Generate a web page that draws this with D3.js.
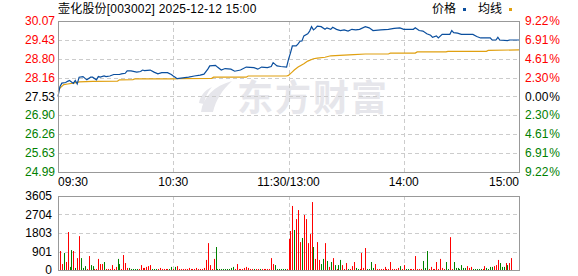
<!DOCTYPE html>
<html lang="zh">
<head>
<meta charset="UTF-8">
<title>壶化股份 分时图</title>
<script src="https://d3js.org/d3.v7.min.js"></script>
<style>
    body { margin: 0; background: #fff; }
    svg { display: block; font-family: "Liberation Sans", Arial, "Noto Sans CJK SC", sans-serif; font-size: 12px; }
</style>
</head>
<body>
<div id="chart"></div>
<script>
// ---- data ----
var title = "壶化股份[003002] 2025-12-12 15:00";
var preClose = 27.53;
var priceTicks = [30.07, 29.43, 28.80, 28.16, 27.53, 26.90, 26.26, 25.63, 24.99];
var pctTicks = ["9.22", "6.91", "4.61", "2.30", "0.00", "2.30", "4.61", "6.91", "9.22"];
var volTicks = [0, 901, 1803, 2704, 3605];
var timeLabels = ["09:30", "10:30", "11:30/13:00", "14:00", "15:00"];
var timeMinutes = [0, 60, 120, 180, 240];

// price line: minute index -> price
var priceMin = [0,1,2,4,5,6,8,9,10,11,13,15,17,18,20,21,22,24,25,27,29,32,33,35,36,38,41,43,44,45,48,50,52,54,57,59,60,61,62,64,68,71,74,76,78,79,82,83,85,87,90,92,95,98,102,104,106,109,111,112,114,116,119,120,121,122,124,125,126,127,128,130,131,132,133,134,135,137,139,140,142,143,145,147,149,151,153,155,157,160,162,164,168,172,175,178,180,185,186,188,190,192,194,195,197,198,200,204,205,206,208,210,216,218,220,225,226,228,229,230,234,235,240];
var priceVal = [27.53,27.86,27.98,28.00,28.04,28.07,27.97,28.07,27.95,28.18,28.20,28.09,28.18,28.18,28.09,28.20,28.18,28.22,28.20,28.22,28.27,28.27,28.29,28.31,28.39,28.39,28.35,28.37,28.42,28.40,28.42,28.35,28.29,28.33,28.33,28.27,28.22,28.18,28.13,28.15,28.18,28.22,28.25,28.28,28.45,28.56,28.58,28.52,28.42,28.47,28.45,28.38,28.42,28.52,28.50,28.45,28.52,28.50,28.54,28.67,28.56,28.54,28.52,28.78,28.99,29.23,29.23,29.30,29.39,29.40,29.57,29.64,29.73,29.88,29.77,29.82,29.90,29.88,29.79,29.84,29.79,29.86,29.79,29.75,29.77,29.73,29.79,29.77,29.79,29.88,29.84,29.75,29.77,29.79,29.82,29.84,29.79,29.79,29.84,29.75,29.73,29.64,29.59,29.52,29.57,29.50,29.62,29.62,29.75,29.68,29.66,29.62,29.62,29.55,29.50,29.50,29.43,29.43,29.52,29.43,29.41,29.43,29.43];

// average line: minute index -> price
var avgMin = [0,1,3,5,8,11,18,31,32,39,40,61,62,80,81,98,99,119,120,121,122,123,125,128,130,133,135,139,142,149,154,160,172,173,186,187,202,203,223,224,240];
var avgVal = [27.70,27.81,27.93,27.95,27.98,28.02,28.04,28.05,28.09,28.10,28.12,28.12,28.13,28.14,28.18,28.18,28.22,28.22,28.24,28.30,28.36,28.42,28.52,28.63,28.72,28.80,28.82,28.85,28.90,28.92,28.94,28.96,28.96,28.99,28.99,29.03,29.03,29.05,29.05,29.08,29.10];

// volume per minute (241 bars) and direction r = up, g = down
var volume = [
    1170,925,290,830,390,1850,150,970,925,100,
    580,1650,580,100,190,50,680,240,190,50,
    50,540,290,290,390,50,50,50,240,50,
    150,540,290,50,730,340,100,100,50,50,
    50,50,50,240,100,100,150,190,240,50,
    50,50,50,100,50,50,50,50,50,150,
    50,150,190,50,50,50,50,50,100,50,
    50,50,100,50,50,50,100,490,1310,240,
    50,540,1120,50,50,50,50,50,50,50,
    100,150,50,290,50,50,50,100,150,100,
    50,50,50,50,50,50,50,50,50,50,
    50,580,290,240,50,50,50,50,50,50,
    1510,1900,3120,1950,2480,2920,1360,1560,2680,2480,
    1310,1750,3310,1120,540,1360,490,290,540,1310,
    440,150,390,580,240,50,240,490,240,50,
    340,50,50,190,390,100,50,50,830,100,
    1070,50,50,390,100,290,50,50,50,50,
    150,50,50,390,50,50,50,100,190,50,
    240,50,50,50,50,50,680,50,50,50,
    440,100,925,50,150,50,50,390,50,540,
    100,50,390,50,1600,50,390,100,100,50,
    240,100,100,190,100,150,50,50,50,50,
    50,50,190,100,50,150,150,190,240,490,
    340,150,150,340,240,340,580,0,0,0,
    970
];
var direction = (
    "rrrgrrggrg" + "rrgggrrggr" + "rrrrgrrrrr" + "rggrrrrggg" + "ggrrrrrrrg" +
    "ggrrrrrrgg" + "rgrrrrrrrr" + "rrrrrrrrrr" + "rrgggggggg" + "ggrrrrrrrr" +
    "rrgrrgrrrr" + "rrrggggggr" + "rrrgrrrgrr" + "rrrgrrrggr" + "grgrgrggrr" +
    "rgrrrggrrr" + "rggggrrrrr" + "rrrrrrrrgr" + "rggrrrrrrr" + "gggrrrrrrr" +
    "rrggrrgggg" + "gggrrrgggg" + "grrggggrrr" + "gggrgrrrrr" + "r"
).split("");

// ---- layout ----
var width = 578, height = 276;
var left = 58, right = 519;
var mainTop = 21, mainBottom = 172;
var volTop = 196, volBottom = 270;
var red = "#ff0000", green = "#008000", gridColor = "#cccccc", frameColor = "#999999";

var svg = d3.select("#chart").append("svg")
    .attr("width", width)
    .attr("height", height);

var x = d3.scaleLinear().domain([0, 240]).range([left, right]);
var y = d3.scaleLinear().domain([24.99, 30.07]).range([mainBottom, mainTop]);
var yv = d3.scaleLinear().domain([0, 3605]).range([volBottom, volTop]);

function crisp(v) { return Math.round(v) + 0.5; }

// watermark (logo + name), drawn under the grid
var wm = svg.append("g").attr("fill", "#e6e6eb");
wm.append("path").attr("d", "M201,112 C203,97 214,86 232,81 C222,90 216,100 213,112 Z");
wm.append("path").attr("d", "M199,103 C200,96 205,90 212,87 C207,93 205,98 204,104 Z");
wm.append("text")
    .attr("x", 237).attr("y", 111)
    .attr("font-size", 36).attr("font-weight", "bold")
    .attr("font-family", "Noto Sans CJK SC")
    .attr("letter-spacing", 2)
    .text("东方财富");

// grid lines
var grid = svg.append("g")
    .attr("stroke", gridColor)
    .attr("stroke-dasharray", "4,3");

grid.selectAll(".hmain")
    .data(priceTicks.slice(1, -1))
    .enter().append("line")
    .attr("x1", left).attr("x2", right)
    .attr("y1", function(d) { return crisp(y(d)); })
    .attr("y2", function(d) { return crisp(y(d)); });

grid.selectAll(".hvol")
    .data(volTicks.slice(1, -1))
    .enter().append("line")
    .attr("x1", left).attr("x2", right)
    .attr("y1", function(d) { return crisp(yv(d)); })
    .attr("y2", function(d) { return crisp(yv(d)); });

timeMinutes.slice(1, -1).forEach(function(m) {
    grid.append("line")
        .attr("x1", crisp(x(m))).attr("x2", crisp(x(m)))
        .attr("y1", mainTop).attr("y2", mainBottom);
    grid.append("line")
        .attr("x1", crisp(x(m))).attr("x2", crisp(x(m)))
        .attr("y1", volTop).attr("y2", volBottom);
});

// average + price lines
var avgLine = d3.line()
    .x(function(d, i) { return x(avgMin[i]); })
    .y(function(d) { return y(d); });
svg.append("path")
    .datum(avgVal)
    .attr("d", avgLine)
    .attr("fill", "none")
    .attr("stroke", "#e0a010")
    .attr("stroke-width", 1.2);

var priceLine = d3.line()
    .x(function(d, i) { return x(priceMin[i]); })
    .y(function(d) { return y(d); });
svg.append("path")
    .datum(priceVal)
    .attr("d", priceLine)
    .attr("fill", "none")
    .attr("stroke", "#0b4f9e")
    .attr("stroke-width", 1.2);

// volume bars
svg.selectAll(".bar")
    .data(volume)
    .enter().append("rect")
    .attr("x", function(d, i) { return Math.round(x(i)); })
    .attr("width", 1)
    .attr("y", function(d) { return yv(d); })
    .attr("height", function(d) { return volBottom - yv(d); })
    .attr("fill", function(d, i) { return direction[i] === "r" ? red : green; });

// frames
[[mainTop, mainBottom], [volTop, volBottom]].forEach(function(r) {
    svg.append("rect")
        .attr("x", left + 0.5).attr("y", r[0] + 0.5)
        .attr("width", right - left).attr("height", r[1] - r[0])
        .attr("fill", "none")
        .attr("stroke", frameColor);
});

// left price labels
svg.selectAll(".plabel")
    .data(priceTicks)
    .enter().append("text")
    .attr("x", left - 3)
    .attr("y", function(d) { return y(d); })
    .attr("dy", "0.35em")
    .attr("text-anchor", "end")
    .attr("fill", function(d) { return d > preClose ? red : (d < preClose ? green : "#000"); })
    .text(function(d) { return d.toFixed(2); });

// right percent labels
var pct = svg.selectAll(".pct")
    .data(pctTicks)
    .enter().append("text")
    .attr("x", right + 6)
    .attr("y", function(d, i) { return y(priceTicks[i]); })
    .attr("dy", "0.35em")
    .attr("fill", function(d, i) { return i < 4 ? red : (i > 4 ? green : "#000"); });
pct.append("tspan").text(function(d) { return d; });
pct.append("tspan").attr("dx", 1).text("%");

// volume labels
svg.selectAll(".vlabel")
    .data(volTicks)
    .enter().append("text")
    .attr("x", left - 6)
    .attr("y", function(d) { return yv(d); })
    .attr("dy", "0.35em")
    .attr("text-anchor", "end")
    .attr("fill", "#000")
    .text(function(d) { return d; });

// time labels
svg.selectAll(".tlabel")
    .data(timeLabels)
    .enter().append("text")
    .attr("x", function(d, i) { return x(timeMinutes[i]); })
    .attr("y", 186)
    .attr("text-anchor", function(d, i) { return i === 0 ? "start" : (i === timeLabels.length - 1 ? "end" : "middle"); })
    .attr("fill", "#000")
    .text(function(d) { return d; });

// title
svg.append("text")
    .attr("x", left).attr("y", 13)
    .attr("fill", "#000")
    .attr("letter-spacing", 0.2)
    .text(title);

// legend
var legend = [["价格", "#0b4f9e"], ["均线", "#e0a010"]];
var lx = [432, 478];
legend.forEach(function(l, i) {
    svg.append("text").attr("x", lx[i]).attr("y", 13).attr("fill", "#000").text(l[0]);
    svg.append("rect").attr("x", lx[i] + 31).attr("y", 8).attr("width", 3).attr("height", 3).attr("fill", l[1]);
});
</script>
</body>
</html>
